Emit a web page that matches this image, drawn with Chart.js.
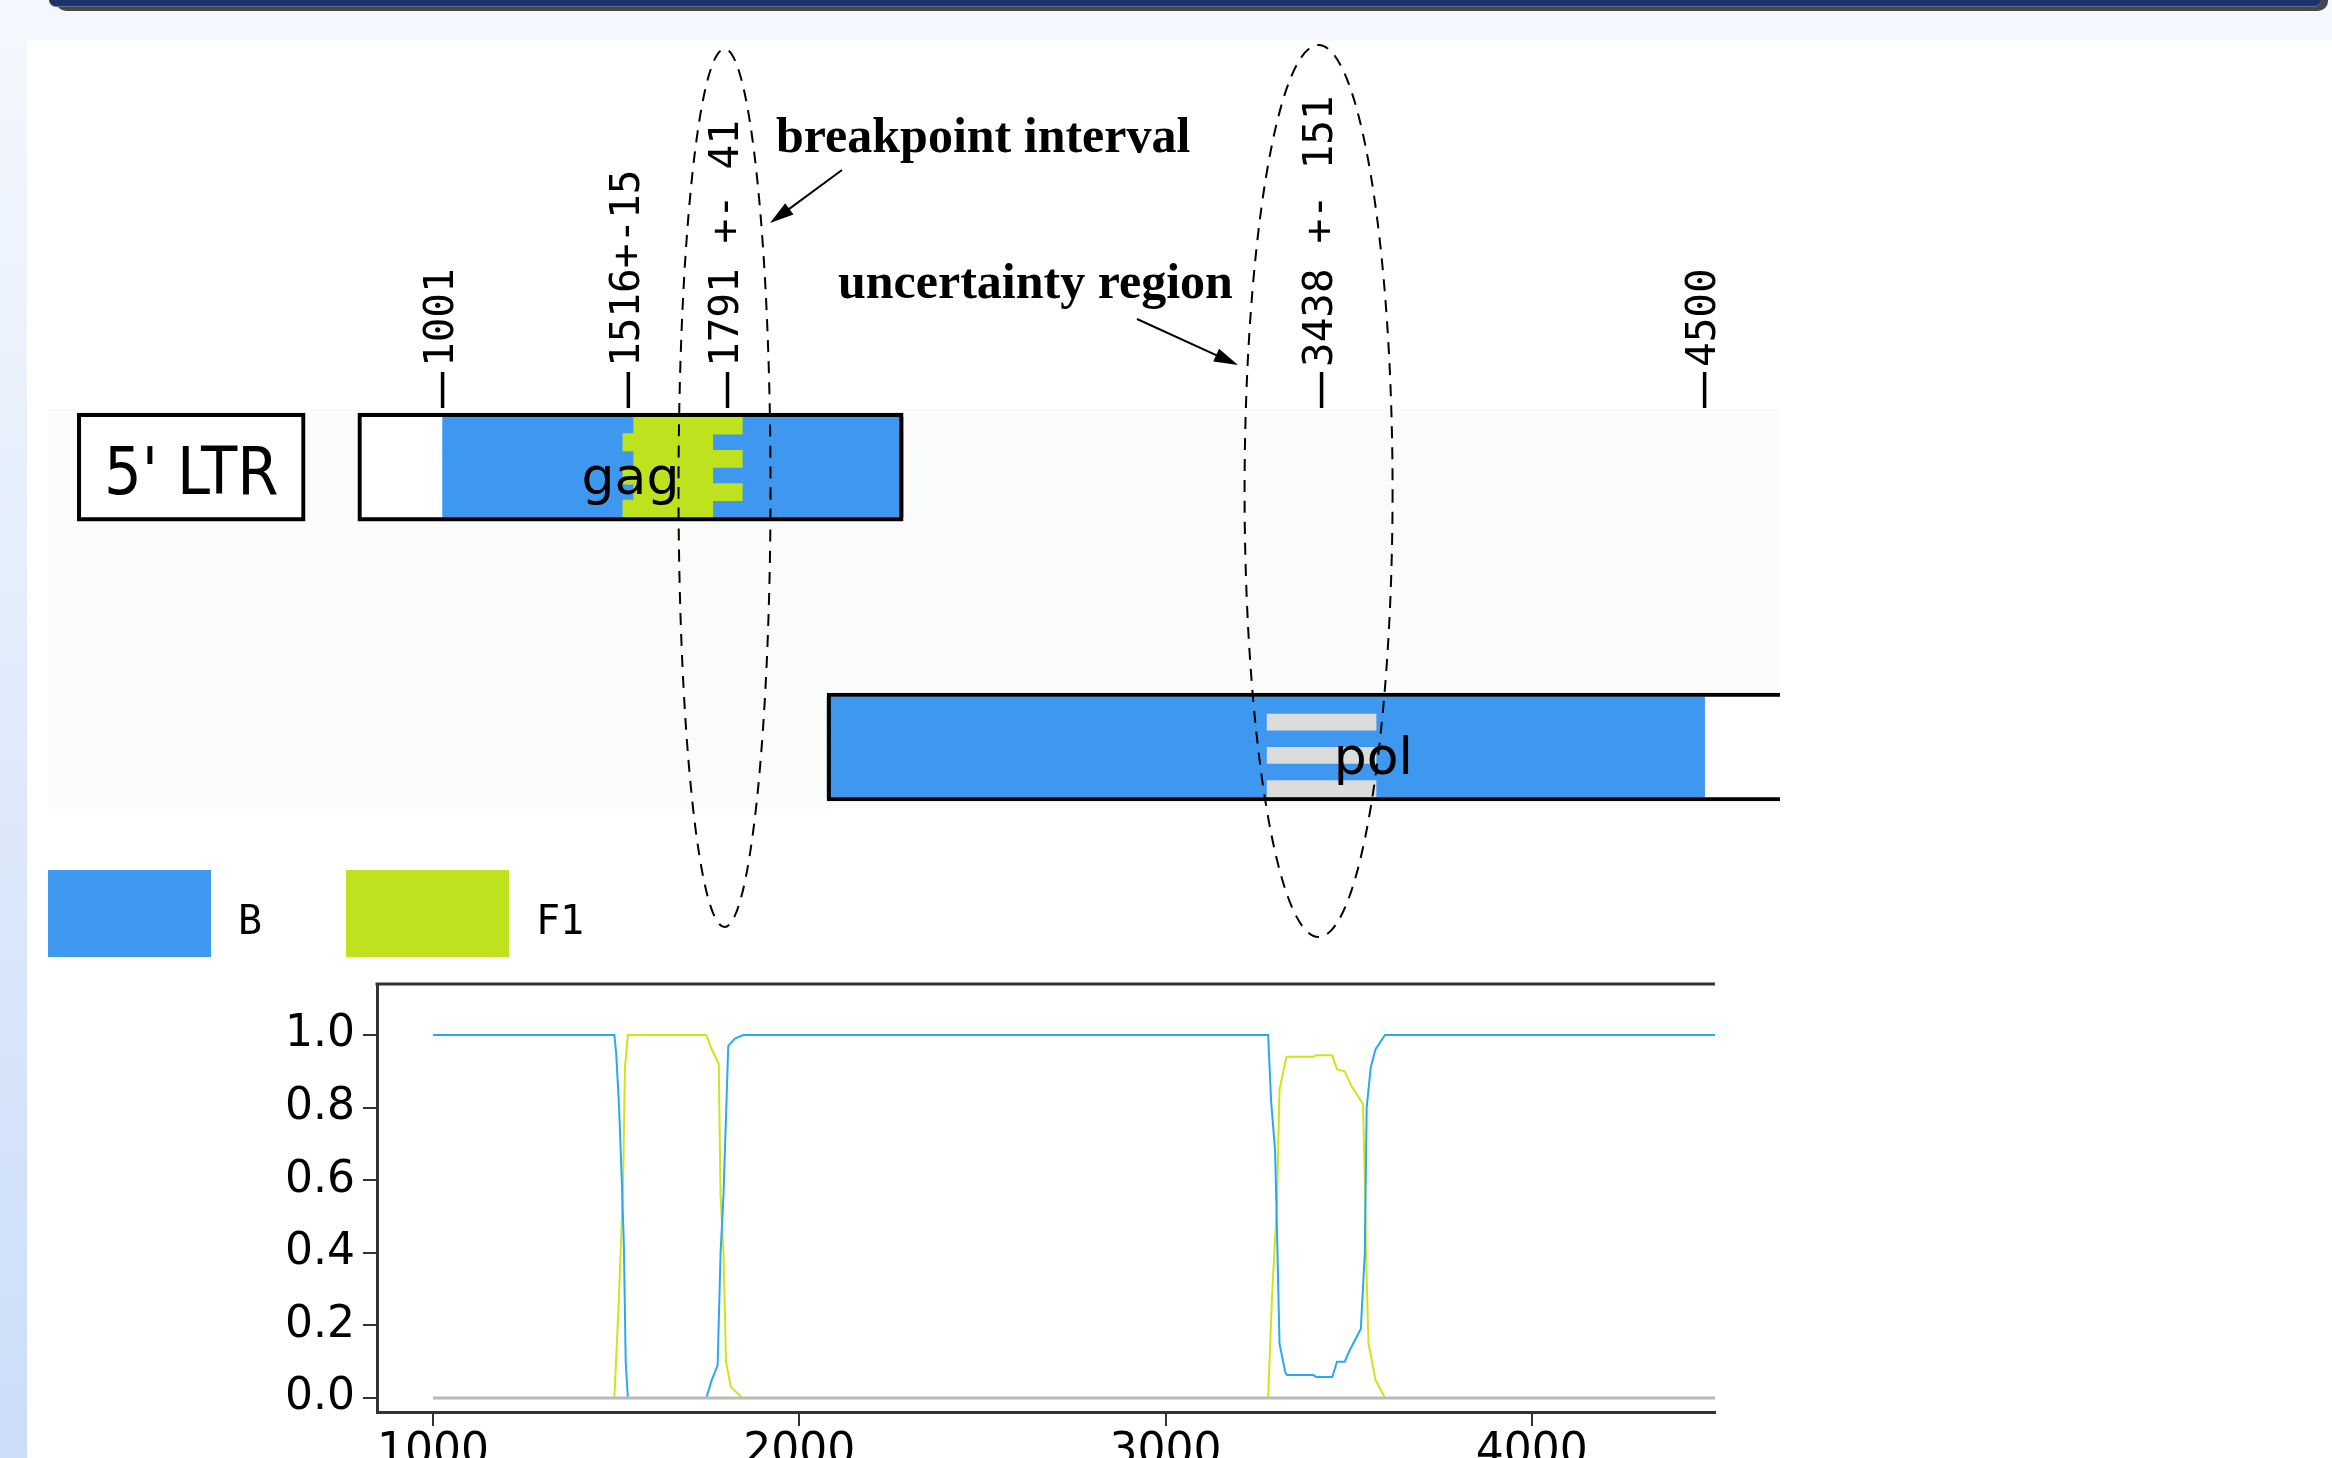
<!DOCTYPE html>
<html>
<head>
<meta charset="utf-8">
<script src="https://cdn.jsdelivr.net/npm/chart.js@4.4.1/dist/chart.umd.min.js"></script>
<style>
    html, body { margin: 0; padding: 0; }
    body {
        width: 2332px; height: 1458px; overflow: hidden; position: relative;
        background: linear-gradient(#f4f8fe, #cbddf8);
    }
    #barShadow { position: absolute; left: 56px; width: 2272px; top: 0; height: 11px; background: #474747; border-radius: 0 0 10px 10px; }
    #bar { position: absolute; left: 49px; width: 2272px; top: 0; height: 6px; background: #1b3366; border-bottom: 1px solid #5d7299; border-radius: 0 0 8px 8px; }
    #panel { position: absolute; left: 27px; top: 40px; right: 0; bottom: 0; background: #fff; }
    canvas { position: absolute; left: 0; }
    #mapChart { top: 0; }
    #probChart { top: 960px; }
    #legend { position: absolute; left: 48px; top: 870px; display: flex; }
    .item { width: 298px; height: 87px; display: flex; align-items: center; }
    .swatch { width: 163px; height: 87px; }
    .name { margin-left: 27px; font: 40px "DejaVu Sans Mono", monospace; color: #000; position: relative; top: 6px; }
</style>
</head>
<body>
<div id="barShadow"></div>
<div id="bar"></div>
<div id="panel"></div>
<canvas id="mapChart" width="2332" height="960"></canvas>
<canvas id="probChart" width="1760" height="540"></canvas>
<div id="legend"></div>
<script>
// genome map (HXB2 positions)
const genes = ["5' LTR", 'gag', 'pol'];
const geneStart = [-12, 766, 2067];
const geneEnd = [620, 2278, 5096];
const seqStart = 1001;
const seqEnd = 4500;
const breakpoints = [1516, 1791, 3438];
const breakpointErr = [15, 41, 151];
const segmentSubtypes = ['B', 'F1', 'B', 'B'];
const subtypes = ['B', 'F1'];
const mapTicks = [1001, 1516, 1791, 3438, 4500];
const mapTickLabels = ['1001', '1516+-15', '1791 +- 41', '3438 +- 151', '4500'];

// posterior probability along the sequence
const bPos = [1000, 1495, 1500, 1508, 1516, 1521, 1526, 1532, 1746, 1761, 1777, 1785, 1793, 1800, 1806, 1824, 1847,
    3280, 3288, 3299, 3304, 3311, 3327, 3332, 3403, 3411, 3455, 3468, 3489, 3502, 3533, 3544, 3549, 3560, 3573, 3599, 4500];
const bProb = [1, 1, 0.95, 0.80, 0.58, 0.42, 0.10, 0, 0, 0.05, 0.09, 0.40, 0.56, 0.78, 0.97, 0.99, 1,
    1, 0.82, 0.68, 0.47, 0.15, 0.07, 0.063, 0.063, 0.058, 0.058, 0.10, 0.10, 0.13, 0.19, 0.40, 0.80, 0.91, 0.96, 1, 1];
const f1Pos = [1000, 1495, 1506, 1513, 1519, 1524, 1532, 1746, 1761, 1780, 1785, 1793, 1800, 1813, 1845,
    3280, 3291, 3304, 3311, 3330, 3403, 3411, 3455, 3468, 3489, 3507, 3539, 3544, 3547, 3554, 3573, 3599, 4500];
const f1Prob = [0, 0, 0.24, 0.42, 0.60, 0.91, 1, 1, 0.96, 0.92, 0.56, 0.40, 0.10, 0.03, 0,
    0, 0.29, 0.53, 0.85, 0.94, 0.94, 0.944, 0.944, 0.905, 0.90, 0.86, 0.81, 0.60, 0.40, 0.15, 0.05, 0, 0];
const otherPos = [1000, 4500];
const otherProb = [0, 0];
const xTicks = [1000, 2000, 3000, 4000];
const yTicks = [0, 0.2, 0.4, 0.6, 0.8, 1.0];

// styling / layout
const colors = { B: '#3f98f0', F1: '#bee31e', unknown: '#dcdcdc' };
const lineColors = { B: '#29a9f2', F1: '#d0e41c', other: '#b9b9b9' };
const trackY = [3.5, 3.5, 20.33];
const stripeCount = 6;
const geneFonts = ['66px "Liberation Sans Narrow", "DejaVu Sans Condensed", sans-serif', '52px "DejaVu Sans"', '52px "DejaVu Sans"'];

// build stripes: even rows use the upper bound of each breakpoint, odd rows the lower one
const stripes = { B: [], F1: [], unknown: [] };
genes.forEach((g, gi) => {
    const from = Math.max(geneStart[gi], seqStart);
    const to = Math.min(geneEnd[gi], seqEnd);
    if (from >= to) return;
    for (let r = 0; r < stripeCount; r++) {
        const y = trackY[gi] - (stripeCount - 1) / 2 + r;
        const edges = [seqStart, ...breakpoints.map((p, i) => r % 2 === 0 ? p + breakpointErr[i] : p - breakpointErr[i]), seqEnd];
        segmentSubtypes.forEach((st, si) => {
            const a = Math.max(edges[si], from), b = Math.min(edges[si + 1], to);
            if (a < b) stripes[st].push({ x: [a, b], y });
        });
        breakpoints.forEach((p, i) => {
            if (segmentSubtypes[i] === segmentSubtypes[i + 1] && r % 2 === 1) {
                const a = Math.max(p - breakpointErr[i], from), b = Math.min(p + breakpointErr[i], to);
                if (a < b) stripes.unknown.push({ x: [a, b], y });
            }
        });
    }
});
const geneBars = genes.map((g, i) => ({ x: [geneStart[i], geneEnd[i]], y: trackY[i] }));

function drawArrow(ctx, x1, y1, x2, y2) {
    const ang = Math.atan2(y2 - y1, x2 - x1);
    ctx.beginPath();
    ctx.moveTo(x1, y1);
    ctx.lineTo(x2 - 18 * Math.cos(ang), y2 - 18 * Math.sin(ang));
    ctx.stroke();
    ctx.beginPath();
    ctx.moveTo(x2, y2);
    ctx.lineTo(x2 - 24 * Math.cos(ang) + 7 * Math.sin(ang), y2 - 24 * Math.sin(ang) - 7 * Math.cos(ang));
    ctx.lineTo(x2 - 24 * Math.cos(ang) - 7 * Math.sin(ang), y2 - 24 * Math.sin(ang) + 7 * Math.cos(ang));
    ctx.closePath();
    ctx.fill();
}

const mapDecor = {
    id: 'mapDecor',
    beforeDatasetsDraw(chart) {
        const { ctx, chartArea: a } = chart;
        ctx.save();
        ctx.fillStyle = '#fafcf9';
        ctx.fillRect(a.left, a.top, a.right - a.left, a.bottom - a.top);
        ctx.restore();
    },
    afterDatasetsDraw(chart) {
        const { ctx, chartArea: a } = chart;
        const xs = chart.scales.x;
        ctx.save();
        // gene names
        const meta = chart.getDatasetMeta(0);
        meta.data.forEach((bar, i) => {
            ctx.font = geneFonts[i];
            ctx.fillStyle = '#000';
            ctx.textAlign = 'center';
            ctx.textBaseline = 'alphabetic';
            ctx.fillText(genes[i], (bar.base + bar.x) / 2, bar.y + 27);
        });
        // position ticks above the map
        ctx.strokeStyle = '#000';
        ctx.lineWidth = 3.5;
        ctx.font = '41px "DejaVu Sans Mono", monospace';
        mapTicks.forEach((v, i) => {
            const x = xs.getPixelForValue(v);
            ctx.beginPath();
            ctx.moveTo(x, a.top - 37);
            ctx.lineTo(x, a.top - 1);
            ctx.stroke();
            ctx.save();
            ctx.translate(x, a.top - 42);
            ctx.rotate(-Math.PI / 2);
            ctx.textAlign = 'left';
            ctx.textBaseline = 'middle';
            ctx.fillText(mapTickLabels[i], 0, 0);
            ctx.restore();
        });
        // uncertainty ellipses
        ctx.lineWidth = 2;
        ctx.setLineDash([12, 9]);
        [[1, 488, 46, 439], [2, 491, 74, 446]].forEach(([bi, cy, rx, ry]) => {
            ctx.beginPath();
            ctx.ellipse(xs.getPixelForValue(breakpoints[bi]) - 3, cy, rx, ry, 0, 0, Math.PI * 2);
            ctx.stroke();
        });
        ctx.setLineDash([]);
        // notes
        ctx.fillStyle = '#000';
        ctx.font = 'bold 50px "Liberation Serif", serif';
        ctx.textAlign = 'left';
        ctx.textBaseline = 'alphabetic';
        ctx.fillText('breakpoint interval', 776, 152);
        ctx.fillText('uncertainty region', 838, 298);
        ctx.lineWidth = 2;
        drawArrow(ctx, 842, 170, 770, 223);
        drawArrow(ctx, 1137, 319, 1238, 365);
        ctx.restore();
    }
};

new Chart(document.getElementById('mapChart'), {
    type: 'bar',
    data: {
        datasets: [
            { label: 'gene', data: geneBars, backgroundColor: '#ffffff', barThickness: 108, order: 5 },
            { label: 'B', data: stripes.B, backgroundColor: colors.B, barThickness: 17.3, order: 4 },
            { label: 'F1', data: stripes.F1, backgroundColor: colors.F1, barThickness: 17.3, order: 3 },
            { label: 'unknown', data: stripes.unknown, backgroundColor: colors.unknown, barThickness: 16, order: 2 },
            { label: 'outline', data: geneBars, backgroundColor: 'rgba(0,0,0,0)', borderColor: '#000',
              borderWidth: 3.5, borderSkipped: false, barThickness: 108, order: 1 }
        ]
    },
    options: {
        indexAxis: 'y',
        responsive: false,
        animation: false,
        datasets: { bar: { grouped: false } },
        layout: { padding: { left: 48, right: 552, top: 409, bottom: 152 } },
        scales: {
            x: { type: 'linear', min: -93, max: 4709, display: false, offset: false },
            y: { type: 'linear', min: 0, max: 24, reverse: true, display: false, offset: false }
        },
        plugins: { legend: { display: false }, tooltip: { enabled: false } }
    },
    plugins: [mapDecor]
});

// legend
const legend = document.getElementById('legend');
subtypes.forEach(s => {
    const item = document.createElement('div');
    item.className = 'item';
    item.innerHTML = `<div class="swatch" style="background:${colors[s]}"></div><span class="name">${s}</span>`;
    legend.appendChild(item);
});

const zip = (xs, ys) => xs.map((x, i) => ({ x, y: ys[i] }));

const topFrame = {
    id: 'topFrame',
    afterDraw(chart) {
        const { ctx, chartArea: a } = chart;
        ctx.save();
        ctx.strokeStyle = '#333';
        ctx.lineWidth = 3;
        ctx.beginPath();
        ctx.moveTo(a.left - 1.5, a.top);
        ctx.lineTo(a.right, a.top);
        ctx.stroke();
        ctx.restore();
    }
};

const tickFont = { family: 'DejaVu Sans', size: 44 };

new Chart(document.getElementById('probChart'), {
    type: 'line',
    data: {
        datasets: [
            { label: 'other', data: zip(otherPos, otherProb), borderColor: lineColors.other, borderWidth: 3, order: 0 },
            { label: 'B', data: zip(bPos, bProb), borderColor: lineColors.B, borderWidth: 2, order: 1 },
            { label: 'F1', data: zip(f1Pos, f1Prob), borderColor: lineColors.F1, borderWidth: 2, order: 2 }
        ]
    },
    options: {
        responsive: false,
        animation: false,
        layout: { padding: { left: 0, top: 24, right: 45, bottom: 28 } },
        elements: { point: { radius: 0 }, line: { tension: 0, fill: false } },
        plugins: { legend: { display: false }, tooltip: { enabled: false } },
        scales: {
            x: {
                type: 'linear', min: 847, max: 4500,
                afterBuildTicks: s => { s.ticks = xTicks.map(v => ({ value: v })); },
                afterFit: s => { s.height = 60; s.paddingLeft = 0; s.paddingRight = 0; },
                grid: { drawOnChartArea: false, drawTicks: true, tickLength: 14, color: '#333', lineWidth: 2 },
                border: { color: '#333', width: 3 },
                ticks: { font: tickFont, color: '#000', padding: 0, maxRotation: 0, autoSkip: false, callback: v => String(v) }
            },
            y: {
                type: 'linear', min: -0.0386, max: 1.1405,
                afterBuildTicks: s => { s.ticks = yTicks.map(v => ({ value: v })); },
                afterFit: s => { s.width = 377; s.paddingTop = 0; s.paddingBottom = 0; },
                grid: { drawOnChartArea: false, drawTicks: true, tickLength: 14, color: '#333', lineWidth: 2 },
                border: { color: '#333', width: 3 },
                ticks: { font: tickFont, color: '#000', padding: 8, callback: v => v.toFixed(1) }
            }
        }
    },
    plugins: [topFrame]
});
</script>
</body>
</html>
